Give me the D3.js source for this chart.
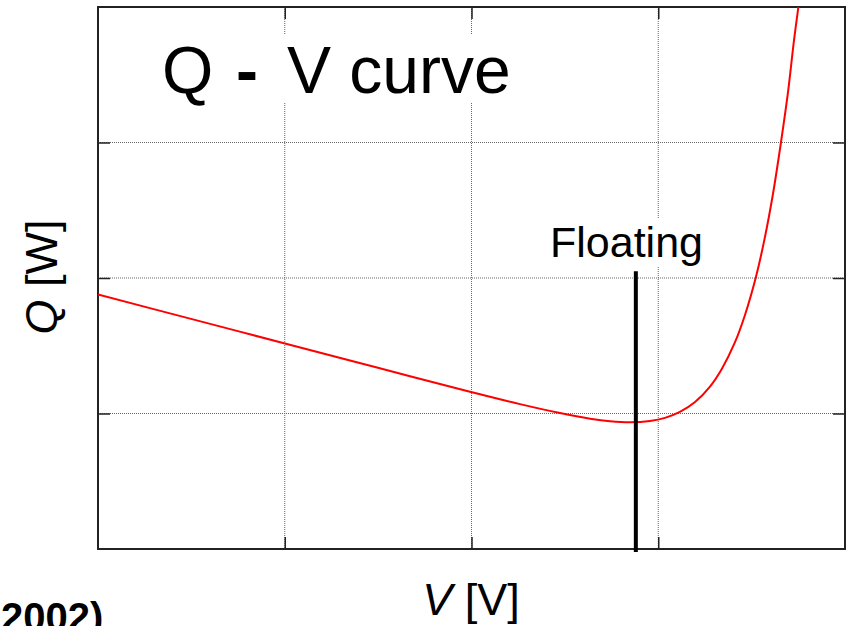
<!DOCTYPE html>
<html>
<head>
<meta charset="utf-8">
<script src="https://cdn.jsdelivr.net/npm/d3@7"></script>
<style>
  html, body { margin: 0; padding: 0; background: #fff; }
  svg { display: block; }
  text { font-family: "Liberation Sans", Arial, sans-serif; fill: #000; }
</style>
</head>
<body>
<svg id="chart" width="851" height="626"></svg>
<script>
// Probe bias voltage (arbitrary units) and heat flux Q (arbitrary units)
const voltage = [0.000, 0.493, 1.001, 1.499, 1.997, 2.260, 2.474, 2.635, 2.742, 2.849, 2.956, 3.036, 3.116, 3.197, 3.277, 3.341, 3.411, 3.464, 3.523, 3.571, 3.614, 3.657, 3.695, 3.727, 3.754];
const heatFlux = [1.878, 1.700, 1.517, 1.337, 1.159, 1.069, 1.003, 0.962, 0.943, 0.935, 0.945, 0.968, 1.012, 1.085, 1.199, 1.331, 1.526, 1.725, 2.007, 2.300, 2.618, 3.000, 3.373, 3.756, 4.037];

// Floating potential marker
const floatingV = [2.88];
const floatingTop = [2.05];

// Grid positions (the axes carry no numeric labels)
const xTicks = [1, 2, 3];
const yTicks = [1, 2, 3];
const xDomain = [0, 4];
const yDomain = [0, 4];

const svg = d3.select("#chart");
const pLeft = 98, pRight = 845, pTop = 7, pBottom = 549;
const pw = pRight - pLeft, ph = pBottom - pTop;

const x = d3.scaleLinear().domain(xDomain).range([pLeft, pRight]);
const y = d3.scaleLinear().domain(yDomain).range([pBottom, pTop]);

// dotted grid
const grid = svg.append("g").attr("class", "grid");
grid.selectAll("line.gx").data(xTicks).join("line")
  .attr("x1", d => x(d)).attr("x2", d => x(d))
  .attr("y1", pTop).attr("y2", pBottom)
  .attr("stroke", "#666").attr("stroke-width", 1).attr("stroke-dasharray", "1,1");
grid.selectAll("line.gy").data(yTicks).join("line")
  .attr("x1", pLeft).attr("x2", pRight)
  .attr("y1", d => y(d)).attr("y2", d => y(d))
  .attr("stroke", "#666").attr("stroke-width", 1).attr("stroke-dasharray", "1,1");

// white panels behind the annotations
svg.append("rect").attr("x", 150).attr("y", 34).attr("width", 370).attr("height", 69).attr("fill", "#fff");
svg.append("rect").attr("x", 545).attr("y", 218).attr("width", 168).attr("height", 48).attr("fill", "#fff");

// inward ticks on all four sides
const tickLen = 12;
const axB = d3.axisBottom(x).tickValues(xTicks).tickSize(-tickLen).tickFormat("");
const axT = d3.axisTop(x).tickValues(xTicks).tickSize(-tickLen).tickFormat("");
const axL = d3.axisLeft(y).tickValues(yTicks).tickSize(-tickLen).tickFormat("");
const axR = d3.axisRight(y).tickValues(yTicks).tickSize(-tickLen).tickFormat("");
[[axB, `translate(0,${pBottom})`], [axT, `translate(0,${pTop})`],
 [axL, `translate(${pLeft},0)`], [axR, `translate(${pRight},0)`]].forEach(([ax, tr]) => {
  const g = svg.append("g").attr("transform", tr).call(ax);
  g.select(".domain").remove();
  g.selectAll(".tick line").attr("stroke", "#222").attr("stroke-width", 1.5);
});

// frame
svg.append("rect").attr("x", pLeft).attr("y", pTop).attr("width", pw).attr("height", ph)
  .attr("fill", "none").attr("stroke", "#222").attr("stroke-width", 2);

// clip for the curve
svg.append("clipPath").attr("id", "plotClip")
  .append("rect").attr("x", pLeft).attr("y", pTop).attr("width", pw).attr("height", ph);

const pts = voltage.map((v, i) => [v, heatFlux[i]]);
const line = d3.line().x(d => x(d[0])).y(d => y(d[1])).curve(d3.curveCatmullRom.alpha(0.5));
svg.append("path").datum(pts)
  .attr("clip-path", "url(#plotClip)")
  .attr("d", line)
  .attr("fill", "none").attr("stroke", "#ff0000").attr("stroke-width", 2);

// floating potential marker
svg.selectAll("line.float").data(floatingV).join("line")
  .attr("x1", d => x(d)).attr("x2", d => x(d))
  .attr("y1", (d, i) => y(floatingTop[i])).attr("y2", pBottom + 3)
  .attr("stroke", "#000").attr("stroke-width", 4);

svg.append("text").attr("x", 550).attr("y", 257)
  .attr("font-size", 43).text("Floating");

// title
const title = svg.append("text").attr("y", 93).attr("font-size", 66);
title.append("tspan").attr("x", 162).text("Q");
title.append("tspan").attr("x", 236).attr("font-weight", "bold").text("-");
title.append("tspan").attr("x", 287).text("V curve");

// axis titles
const xl = svg.append("text").attr("x", 471).attr("y", 615)
  .attr("text-anchor", "middle").attr("font-size", 45);
xl.append("tspan").attr("font-style", "italic").text("V");
xl.append("tspan").text(" [V]");

const yl = svg.append("text").attr("transform", "translate(57,277) rotate(-90)")
  .attr("text-anchor", "middle").attr("font-size", 45);
yl.append("tspan").attr("font-style", "italic").text("Q");
yl.append("tspan").text(" [W]");

// citation fragment at lower left
svg.append("text").attr("x", 1).attr("y", 631)
  .attr("font-size", 40).attr("font-weight", "bold").text("2002)");
</script>
</body>
</html>
